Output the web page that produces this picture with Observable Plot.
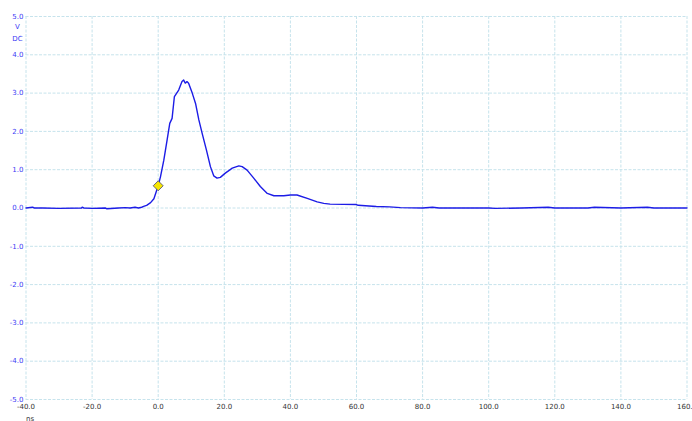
<!DOCTYPE html>
<html>
<head>
<meta charset="utf-8">
<script src="https://cdn.jsdelivr.net/npm/d3@7"></script>
<script src="https://cdn.jsdelivr.net/npm/@observablehq/plot@0.6"></script>
<style>
  html, body { margin: 0; padding: 0; background: #fff; }
  #chart svg { display: block; }
</style>
</head>
<body>
<div id="chart"></div>
<script>
const timeNs = [-40, -38, -37.5, -35, -30, -23.2, -23, -22.5, -20, -16, -15.5, -12, -10, -8.5, -7, -6, -5, -4.4, -3.5, -2.3, -1.3, 0,
  0.7, 1.7, 2.7, 3.5, 4.2, 4.9, 6.2, 7.2, 7.7, 8.2, 8.7, 9.2, 10.3, 11.3, 12.3, 13.3, 14.6, 15.8, 16.8, 17.8, 18.8,
  20.3, 21.9, 22.4, 24.4, 25.4, 26.9, 28.9, 30.9, 33.0, 35.0, 38.0, 40.0, 42.0, 45.1, 48.1, 50.1, 52, 60, 60.5,
  66, 70, 73.3, 80, 83, 85, 90, 100, 102, 110, 118, 120, 130, 132, 140, 148, 150, 160];
const voltsDC = [0.0, 0.02, 0.0, 0.0, -0.01, 0.0, 0.02, 0.0, -0.01, 0.0, -0.02, 0.0, 0.01, 0.0, 0.02, 0.0, 0.02, 0.04, 0.07, 0.14, 0.24, 0.58,
  0.82, 1.25, 1.78, 2.21, 2.34, 2.91, 3.08, 3.30, 3.34, 3.26, 3.30, 3.26, 3.0, 2.73, 2.30, 1.95, 1.51, 1.08, 0.84, 0.78, 0.80,
  0.91, 1.01, 1.04, 1.10, 1.08, 0.99, 0.78, 0.56, 0.38, 0.32, 0.32, 0.34, 0.34, 0.25, 0.16, 0.12, 0.10, 0.09, 0.07,
  0.04, 0.03, 0.01, 0.0, 0.02, 0.0, 0.0, 0.0, -0.01, 0.0, 0.02, 0.0, 0.0, 0.02, 0.0, 0.02, 0.0, 0.0];
const xTicks = [-40, -20, 0, 20, 40, 60, 80, 100, 120, 140, 160];
const yTicks = [5, 4, 3, 2, 1, 0, -1, -2, -3, -4, -5];
const marker = [{t: 0, v: 0.58}];
const yUnits = [{label: "V", v: 4.72, dx: -9.5}, {label: "DC", v: 4.41, dx: -7.5}];
const xUnit = [{label: "ns"}];

const data = timeNs.map((t, i) => ({t, v: voltsDC[i]}));
const gridColor = "#c6e3ec";
const blue = "#3b3bf5";

const chart = Plot.plot({
  width: 692,
  height: 421,
  marginLeft: 25.5,
  marginRight: 5.5,
  marginTop: 16,
  marginBottom: 22,
  style: {fontFamily: "DejaVu Sans, Verdana, sans-serif", fontSize: "7px", background: "#fff"},
  x: {domain: [-40, 160], label: null},
  y: {domain: [-5, 5], label: null},
  marks: [
    Plot.ruleX(xTicks, {stroke: gridColor, strokeDasharray: "3,1.5", strokeWidth: 1}),
    Plot.ruleY(yTicks, {stroke: gridColor, strokeDasharray: "3,1.5", strokeWidth: 1}),
    Plot.axisX({ticks: xTicks, tickFormat: d => d.toFixed(1), tickSize: 0, tickPadding: 5, fill: "#333", label: null}),
    Plot.axisY({ticks: yTicks, tickFormat: d => d.toFixed(1), tickSize: 0, tickPadding: 2.5, fill: blue, label: null}),
    Plot.text(yUnits, {x: () => -40, y: "v", text: "label", dx: -8.5, fill: blue, textAnchor: "middle"}),
    Plot.text(xUnit, {x: () => -40, y: () => -5, text: "label", dx: 4, dy: 19, fill: "#333", textAnchor: "middle"}),
    Plot.line(data, {x: "t", y: "v", stroke: "#1c1ce6", strokeWidth: 1.4}),
    Plot.dot(marker, {x: "t", y: "v", symbol: "diamond2", r: 4.5, fill: "#f5e600", stroke: "#44447a", strokeWidth: 0.8})
  ]
});
document.getElementById("chart").appendChild(chart);
</script>
</body>
</html>
